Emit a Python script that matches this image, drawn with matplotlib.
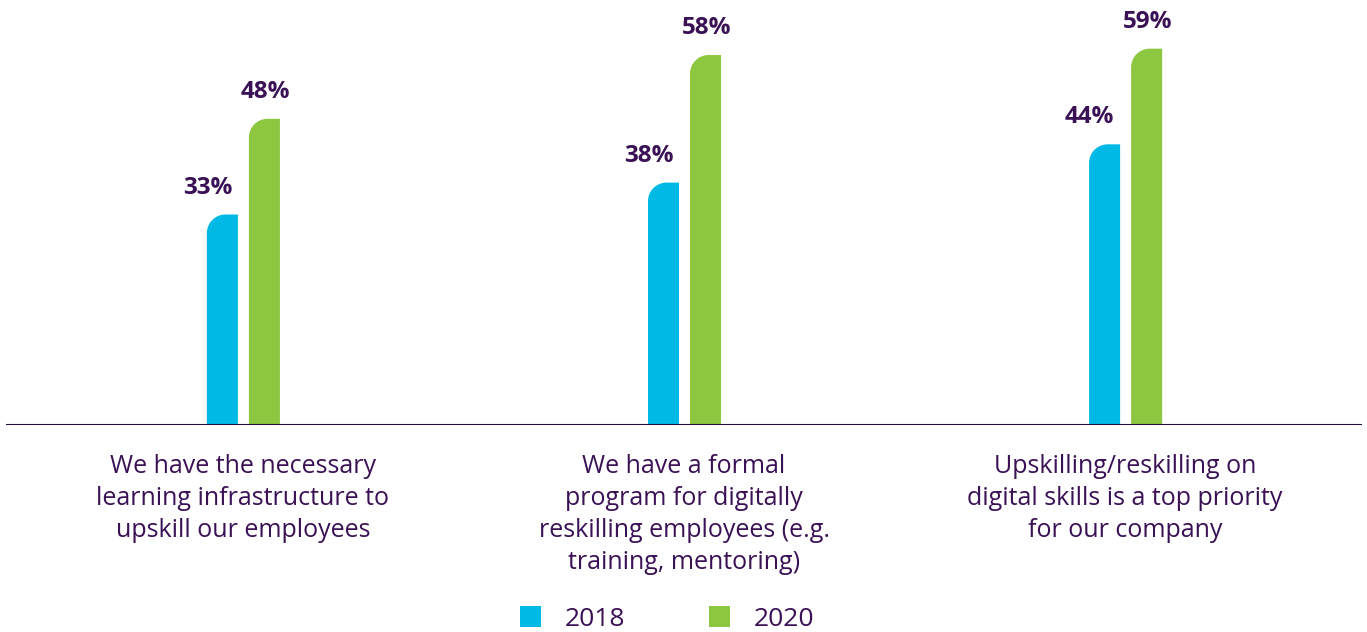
import numpy as np
import matplotlib.pyplot as plt
from matplotlib.path import Path
from matplotlib.patches import PathPatch, Patch

# data
categories = ['We have the necessary\nlearning infrastructure to\nupskill our employees',
              'We have a formal\nprogram for digitally\nreskilling employees (e.g.\ntraining, mentoring)',
              'Upskilling/reskilling on\ndigital skills is a top priority\nfor our company']
years = ['2018', '2020']
vals_2018 = [33, 38, 44]
vals_2020 = [48, 58, 59]

blue = '#00b9e4'
green = '#8dc63f'
purple = '#3a1155'
font = 'Open Sans'

fig = plt.figure(figsize=(13.67, 6.32), dpi=100)
ax = fig.add_axes([6/1367, 207/632, 1356/1367, 421/632])
ax.set_xlim(-0.537, 2.537)
ax.set_ylim(0, 66)
ax.axis('off')

bw = 0.0703
offs = [-0.0465, 0.0488]
rx, ry = 0.042, 2.9
k = 0.5523


def rounded_bar(xc, h, color):
    x0, x1 = xc - bw/2, xc + bw/2
    verts = [(x0, 0), (x1, 0), (x1, h), (x0 + rx, h),
             (x0 + rx - k*rx, h), (x0, h - ry + k*ry), (x0, h - ry),
             (x0, 0)]
    codes = [Path.MOVETO, Path.LINETO, Path.LINETO, Path.LINETO,
             Path.CURVE4, Path.CURVE4, Path.CURVE4, Path.CLOSEPOLY]
    ax.add_patch(PathPatch(Path(verts, codes), facecolor=color, edgecolor='none'))


x = np.arange(len(categories))
for i in x:
    rounded_bar(i + offs[0], vals_2018[i], blue)
    rounded_bar(i + offs[1], vals_2020[i], green)
    ax.annotate(f'{vals_2018[i]}%', (i + offs[0], vals_2018[i]), xytext=(-15, 27),
                textcoords='offset pixels', ha='center', va='center',
                fontsize=17.5, fontweight='bold', color=purple, family=font)
    ax.annotate(f'{vals_2020[i]}%', (i + offs[1], vals_2020[i]), xytext=(1, 27),
                textcoords='offset pixels', ha='center', va='center',
                fontsize=17.5, fontweight='bold', color=purple, family=font)
    ax.annotate(categories[i], (i, 0), xytext=(0, -29), textcoords='offset pixels',
                ha='center', va='top', fontsize=18, color=purple, family=font,
                linespacing=1.36)

ax.axhline(0, color='#2a0a45', lw=1.5)

handles = [Patch(facecolor=blue), Patch(facecolor=green)]
fig.legend(handles, years, loc='center', bbox_to_anchor=(667/1367, 1 - 619/632),
           ncol=2, frameon=False, prop={'family': font, 'size': 19},
           labelcolor=purple, handlelength=0.8, handleheight=0.8,
           handletextpad=0.87, columnspacing=3.2)

fig.savefig('out.png', dpi=100)
